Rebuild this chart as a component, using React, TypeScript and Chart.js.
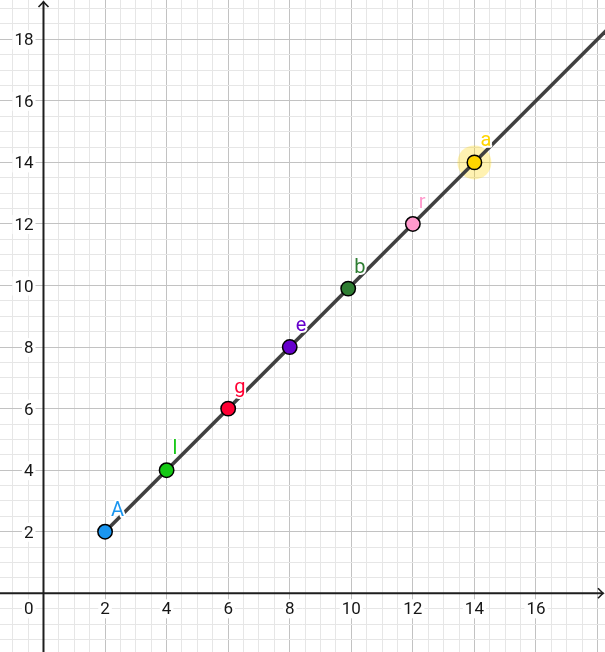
import React, { useEffect, useRef } from "react";
import { Chart, registerables } from "chart.js";

Chart.register(...registerables);

// ---- data ----
const pointNames = ["A", "l", "g", "e", "b", "r", "a"];
const pointX = [2, 4, 6, 8, 9.9, 12, 14];
const pointY = [2, 4, 6, 8, 9.9, 12, 14];
const pointColors = ["#1a96f0", "#14c814", "#ff0033", "#6600cc", "#2e7d32", "#ff99cc", "#ffd500"];
const highlightedPoint = "a";
const lineStart = [2, 2];
const lineEnd = [22, 22];
const xTickLabels = [2, 4, 6, 8, 10, 12, 14, 16];
const yTickLabels = [2, 4, 6, 8, 10, 12, 14, 16, 18];
const originLabel = "0";
const xRange = [-1.413, 18.243];
const yRange = [-1.907, 19.276];

const TICK_FONT = "17px Roboto, 'Noto Sans', sans-serif";
const LABEL_FONT = "20px Roboto, 'Noto Sans', sans-serif";
const TEXT_COLOR = "#161616";

const ggbPlugin = {
  id: "ggbAxes",
  beforeDatasetsDraw(chart: any) {
    const { ctx, chartArea, scales } = chart;
    const x0 = scales.x.getPixelForValue(0);
    const y0 = scales.y.getPixelForValue(0);
    ctx.save();
    ctx.font = TICK_FONT;
    // x tick labels
    xTickLabels.forEach((v) => {
      const px = scales.x.getPixelForValue(v);
      const t = String(v);
      const w = ctx.measureText(t).width;
      ctx.fillStyle = "#ffffff";
      ctx.fillRect(px - w / 2 - 2, y0 + 6, w + 4, 19);
      ctx.fillStyle = TEXT_COLOR;
      ctx.textAlign = "center";
      ctx.textBaseline = "alphabetic";
      ctx.fillText(t, px, y0 + 21);
    });
    // y tick labels
    yTickLabels.forEach((v) => {
      const py = scales.y.getPixelForValue(v);
      const t = String(v);
      const w = ctx.measureText(t).width;
      ctx.fillStyle = "#ffffff";
      ctx.fillRect(x0 - 10 - w - 2, py - 9, w + 4, 19);
      ctx.fillStyle = TEXT_COLOR;
      ctx.textAlign = "right";
      ctx.textBaseline = "alphabetic";
      ctx.fillText(t, x0 - 10, py + 6);
    });
    // origin
    {
      const w = ctx.measureText(originLabel).width;
      ctx.fillStyle = "#ffffff";
      ctx.fillRect(x0 - 10 - w - 2, y0 + 6, w + 4, 19);
      ctx.fillStyle = TEXT_COLOR;
      ctx.textAlign = "right";
      ctx.fillText(originLabel, x0 - 10, y0 + 21);
    }
    // axes
    ctx.strokeStyle = "#1e1e1e";
    ctx.lineWidth = 2;
    ctx.beginPath();
    ctx.moveTo(chartArea.left, y0);
    ctx.lineTo(chartArea.right - 1.5, y0);
    ctx.moveTo(x0, chartArea.bottom);
    ctx.lineTo(x0, chartArea.top + 1.5);
    ctx.stroke();
    // arrows
    ctx.lineWidth = 1.6;
    ctx.lineJoin = "miter";
    ctx.beginPath();
    ctx.moveTo(x0 - 5, chartArea.top + 7);
    ctx.lineTo(x0, chartArea.top + 2);
    ctx.lineTo(x0 + 5, chartArea.top + 7);
    ctx.moveTo(chartArea.right - 7, y0 - 5);
    ctx.lineTo(chartArea.right - 2, y0);
    ctx.lineTo(chartArea.right - 7, y0 + 5);
    ctx.stroke();
    ctx.restore();
  },
  afterDatasetsDraw(chart: any) {
    const { ctx, scales } = chart;
    ctx.save();
    ctx.font = LABEL_FONT;
    ctx.textAlign = "left";
    ctx.textBaseline = "alphabetic";
    ctx.lineJoin = "round";
    pointNames.forEach((name, i) => {
      const px = scales.x.getPixelForValue(pointX[i]);
      const py = scales.y.getPixelForValue(pointY[i]);
      ctx.strokeStyle = "#ffffff";
      ctx.lineWidth = 4;
      ctx.strokeText(name, px + 6, py - 16);
      ctx.fillStyle = pointColors[i];
      ctx.fillText(name, px + 6, py - 16);
    });
    ctx.restore();
  },
};

function gridColor(ctx: any) {
  const v = ctx.tick ? ctx.tick.value : 0;
  const r = Math.abs(v / 2 - Math.round(v / 2));
  return r < 1e-6 ? "#c2c2c2" : "#e6e6e6";
}

export default function App() {
  const canvasRef = useRef<HTMLCanvasElement | null>(null);
  useEffect(() => {
    document.body.style.margin = "0";
    const canvas = canvasRef.current;
    if (!canvas) return;
    const hi = pointNames.indexOf(highlightedPoint);
    const chart = new Chart(canvas, {
      type: "scatter",
      data: {
        datasets: [
          {
            label: "points",
            data: pointX.map((x, i) => ({ x, y: pointY[i] })),
            pointRadius: 7.2,
            pointHoverRadius: 7.2,
            pointBackgroundColor: pointColors,
            pointBorderColor: "#000000",
            pointBorderWidth: 1.5,
            showLine: false,
          },
          {
            label: "line",
            data: [
              { x: lineStart[0], y: lineStart[1] },
              { x: lineEnd[0], y: lineEnd[1] },
            ],
            showLine: true,
            borderColor: "#404040",
            borderWidth: 3.6,
            pointRadius: 0,
            fill: false,
          },
          {
            label: "halo",
            data: [{ x: pointX[hi], y: pointY[hi] }],
            pointRadius: 17,
            pointBackgroundColor: "rgba(255, 213, 0, 0.3)",
            pointBorderWidth: 0,
            pointBorderColor: "rgba(0,0,0,0)",
            showLine: false,
          },
        ],
      },
      options: {
        responsive: false,
        animation: false,
        events: [],
        layout: { padding: 0, autoPadding: false },
        plugins: { legend: { display: false }, tooltip: { enabled: false } },
        scales: {
          x: {
            type: "linear",
            position: "bottom",
            min: xRange[0],
            max: xRange[1],
            border: { display: false },
            grid: { color: gridColor, lineWidth: 1, drawTicks: false },
            ticks: { display: false, stepSize: 0.5, includeBounds: false, autoSkip: false },
          },
          y: {
            type: "linear",
            position: "left",
            min: yRange[0],
            max: yRange[1],
            border: { display: false },
            grid: { color: gridColor, lineWidth: 1, drawTicks: false },
            ticks: { display: false, stepSize: 0.5, includeBounds: false, autoSkip: false },
          },
        },
      },
      plugins: [ggbPlugin],
    });
    return () => chart.destroy();
  }, []);
  return (
    <div style={{ position: "fixed", left: 0, top: 0, width: 605, height: 652, background: "#fff" }}>
      <canvas ref={canvasRef} width={605} height={652} style={{ display: "block" }} />
    </div>
  );
}
